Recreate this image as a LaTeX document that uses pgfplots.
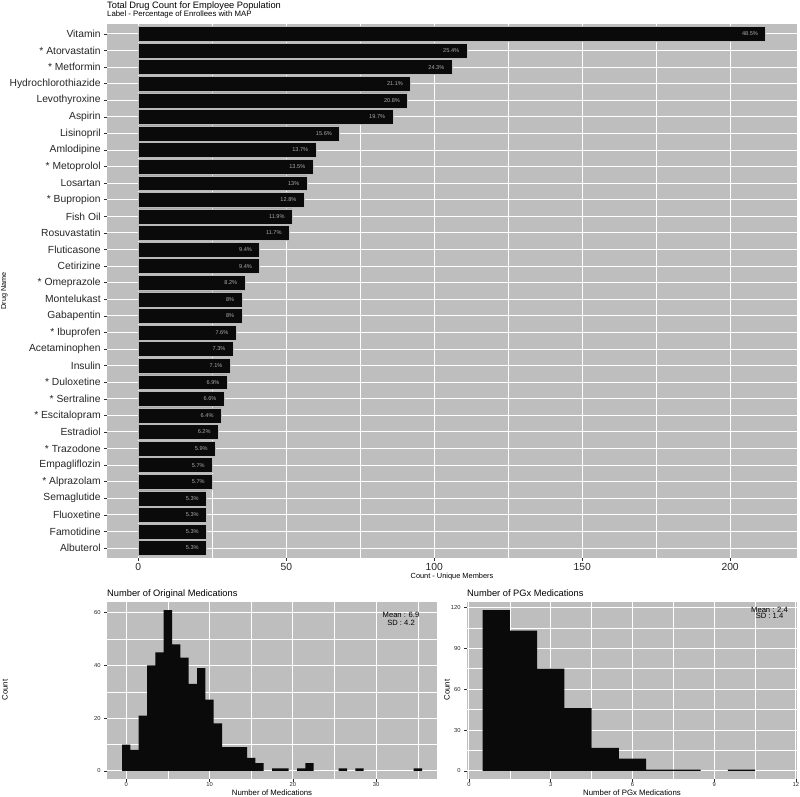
\documentclass[border=0pt]{standalone}
\usepackage{fontspec}
\setmainfont{Liberation Sans}
\usepackage{pgfplots}
\pgfplotsset{compat=1.18}

\definecolor{Panel}{RGB}{190,190,190}
\definecolor{Bar}{RGB}{10,10,10}
\definecolor{Lab}{RGB}{172,172,172}
\definecolor{TickC}{RGB}{45,45,45}

\pgfplotsset{gg/.style={
  scale only axis,
  axis background/.style={fill=Panel},
  axis line style={draw=none},
  tick pos=left,
  tick align=outside, major tick length=2.8pt, minor tick length=0pt,
  tick style={draw=TickC, line width=0.6pt},
  grid=both,
  major grid style={white, line width=1pt},
  minor grid style={white, line width=0.5pt},
  ticklabel style={text=black!85},
  /pgf/number format/assume math mode=true,
}}

\pgfplotstableread{
c   i  p
212 1  48.5\%
111 2  25.4\%
106 3  24.3\%
92  4  21.1\%
91  5  20.8\%
86  6  19.7\%
68  7  15.6\%
60  8  13.7\%
59  9  13.5\%
57  10 13\%
56  11 12.8\%
52  12 11.9\%
51  13 11.7\%
41  14 9.4\%
41  15 9.4\%
36  16 8.2\%
35  17 8\%
35  18 8\%
33  19 7.6\%
32  20 7.3\%
31  21 7.1\%
30  22 6.9\%
29  23 6.6\%
28  24 6.4\%
27  25 6.2\%
26  26 5.9\%
25  27 5.7\%
25  28 5.7\%
23  29 5.3\%
23  30 5.3\%
23  31 5.3\%
23  32 5.3\%
}\drugs

\begin{document}
\begin{tikzpicture}
\path[use as bounding box] (0,0) rectangle (800pt,-797pt);

% ---- top: drug counts ----
\begin{axis}[gg,
  at={(107pt,-558pt)}, anchor=south west, width=690pt, height=534pt,
  xmin=-10.6, xmax=222.6, ymin=0.4, ymax=32.6, y dir=reverse,
  xtick={0,50,100,150,200}, minor xtick={25,75,125,175},
  ytick={1,...,32},
  yticklabels={Vitamin,* Atorvastatin,* Metformin,Hydrochlorothiazide,Levothyroxine,Aspirin,Lisinopril,Amlodipine,* Metoprolol,Losartan,* Bupropion,Fish Oil,Rosuvastatin,Fluticasone,Cetirizine,* Omeprazole,Montelukast,Gabapentin,* Ibuprofen,Acetaminophen,Insulin,* Duloxetine,* Sertraline,* Escitalopram,Estradiol,* Trazodone,Empagliflozin,* Alprazolam,Semaglutide,Fluoxetine,Famotidine,Albuterol},
  ticklabel style={font=\fontsize{10.3}{12}\selectfont},
  xticklabel style={yshift=1pt},
]
\addplot[xbar, bar width=0.9, bar shift=0pt, fill=Bar, draw=gray!55, line width=0.5pt]
  table[x=c, y=i] {\drugs};
\addplot[draw=none, mark=none, nodes near coords, point meta=explicit symbolic,
  every node near coord/.style={anchor=east, xshift=-7.5pt, inner sep=0pt,
    font=\fontsize{5.6}{6}\selectfont, text=Lab}]
  table[x=c, y=i, meta=p] {\drugs};
\end{axis}

% ---- bottom left: original medications ----
\begin{axis}[gg,
  at={(107pt,-779pt)}, anchor=south west, width=330pt, height=177pt,
  xmin=-2.3, xmax=37.3, ymin=-3.05, ymax=64.05,
  xtick={0,10,20,30}, minor xtick={5,15,25,35},
  ytick={0,20,40,60}, minor ytick={10,30,50},
  ticklabel style={font=\fontsize{5.8}{6}\selectfont},
  xticklabel style={yshift=2.5pt},
]
\addplot[ybar, bar width=1, bar shift=0pt, fill=Bar, draw=none] coordinates {
(0,10)(1,8)(2,21)(3,40)(4,45)(5,61)(6,48)(7,43)(8,33)(9,39)(10,27)(11,18)
(12,9)(13,9)(14,9)(15,5)(16,3)(18,1)(19,1)(21,1)(22,3)(26,1)(28,1)(35,1)};
\end{axis}

% ---- bottom right: PGx medications ----
\begin{axis}[gg,
  at={(467pt,-779pt)}, anchor=south west, width=330pt, height=177pt,
  xmin=-0.07, xmax=12.04, ymin=-5.9, ymax=123.9,
  xtick={0,3,6,9,12}, minor xtick={1.5,4.5,7.5,10.5},
  ytick={0,30,60,90,120}, minor ytick={15,45,75,105},
  ticklabel style={font=\fontsize{5.8}{6}\selectfont},
  xticklabel style={yshift=2.5pt},
]
\addplot[ybar, bar width=1, bar shift=0pt, fill=Bar, draw=none] coordinates {
(1,118)(2,103)(3,75)(4,46)(5,17)(6,9)(7,1)(8,1)(10,1)};
\end{axis}

% ---- titles and axis labels ----
\node[anchor=base west, inner sep=0pt, font=\fontsize{9.3}{11}\selectfont] at (107pt,-8.4pt) {Total Drug Count for Employee Population};
\node[anchor=base west, inner sep=0pt, font=\fontsize{7.8}{9}\selectfont] at (107pt,-17pt) {Label - Percentage of Enrollees with MAP};
\node[rotate=90, inner sep=0pt, font=\fontsize{7.2}{9}\selectfont] at (4.5pt,-291pt) {Drug Name};
\node[inner sep=0pt, font=\fontsize{7.4}{9}\selectfont] at (452pt,-577pt) {Count - Unique Members};

\node[anchor=base west, inner sep=0pt, font=\fontsize{9.3}{11}\selectfont] at (107pt,-596pt) {Number of Original Medications};
\node[anchor=base west, inner sep=0pt, font=\fontsize{9.3}{11}\selectfont] at (467pt,-596pt) {Number of PGx Medications};
\node[inner sep=0pt, font=\fontsize{7.8}{9}\selectfont] at (272pt,-793pt) {Number of Medications};
\node[inner sep=0pt, font=\fontsize{7.8}{9}\selectfont] at (632pt,-793pt) {Number of PGx Medications};
\node[rotate=90, inner sep=0pt, font=\fontsize{7.8}{9}\selectfont] at (5pt,-690pt) {Count};
\node[rotate=90, inner sep=0pt, font=\fontsize{7.8}{9}\selectfont] at (447pt,-690pt) {Count};

\node[inner sep=0pt, font=\fontsize{7.6}{9}\selectfont] at (401pt,-614.5pt) {Mean : 6.9};
\node[inner sep=0pt, font=\fontsize{7.6}{9}\selectfont] at (401pt,-622.5pt) {SD : 4.2};
\node[inner sep=0pt, font=\fontsize{7.6}{9}\selectfont] at (769.5pt,-609.5pt) {Mean : 2.4};
\node[inner sep=0pt, font=\fontsize{7.6}{9}\selectfont] at (769.5pt,-616pt) {SD : 1.4};
\end{tikzpicture}
\end{document}
